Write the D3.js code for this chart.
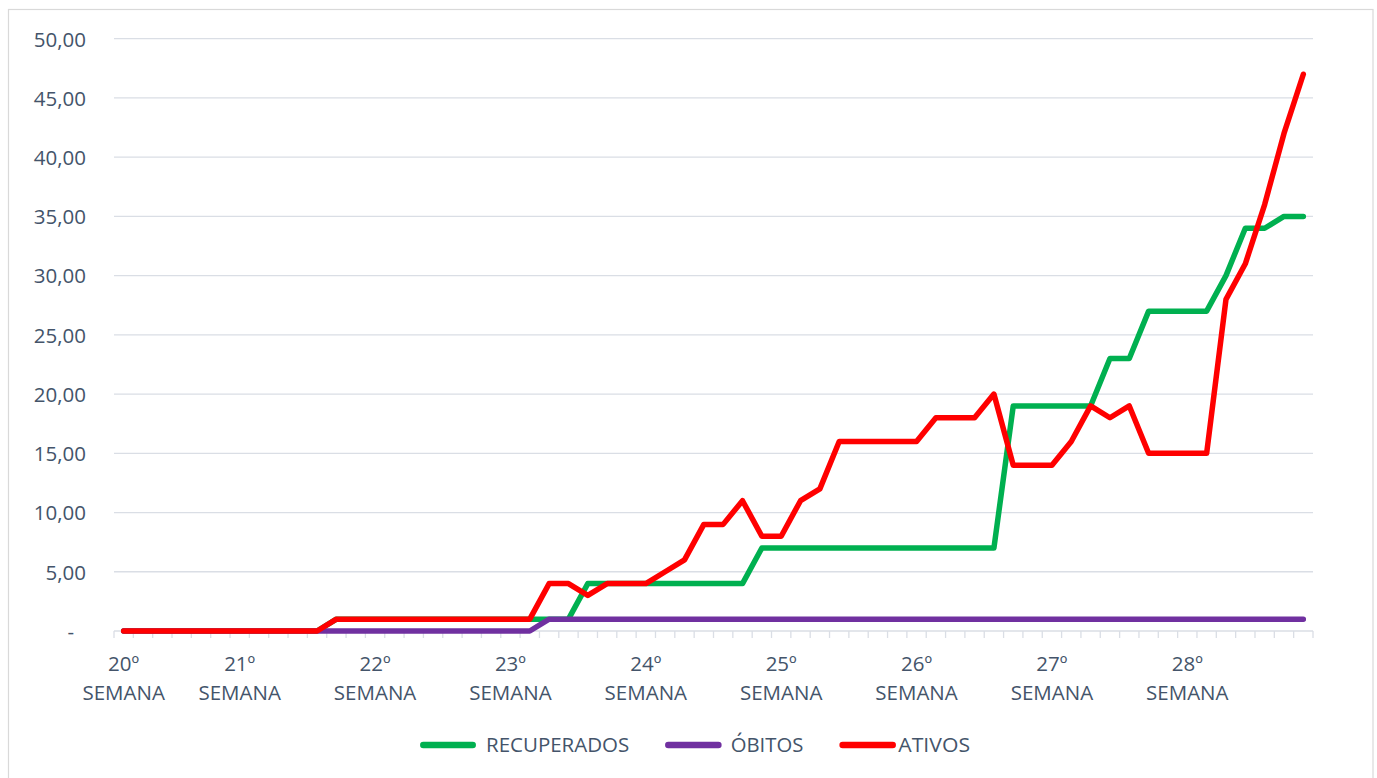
<!DOCTYPE html>
<html>
<head>
<meta charset="utf-8">
<script src="https://cdn.jsdelivr.net/npm/d3@7"></script>
<style>
  html, body { margin: 0; padding: 0; background: #ffffff; }
  svg { display: block; }
  text { font-family: "Open Sans", "Noto Sans", sans-serif; fill: #44546A; }
</style>
</head>
<body>
<svg id="chart" width="1377" height="778"></svg>
<script>
// ---- data (one value per day, 62 points) ----
const weekLabels = ["20º", "21º", "22º", "23º", "24º", "25º", "26º", "27º", "28º"];
const weekLabelIndex = [0, 6, 13, 20, 27, 34, 41, 48, 55];
const weekWord = "SEMANA";

const recuperados = [
  0,0,0,0,0,0,0,0,0,0,0,
  1,1,1,1,1,1,1,1,1,1,1,1,1,
  4,4,4,4,4,4,4,4,4,
  7,7,7,7,7,7,7,7,7,7,7,7,7,
  19,19,19,19,19,
  23,23,
  27,27,27,27,
  30,34,34,35,35
];
const obitos = [
  0,0,0,0,0,0,0,0,0,0,0,0,0,0,0,0,0,0,0,0,0,0,
  1,1,1,1,1,1,1,1,1,1,1,1,1,1,1,1,1,1,1,1,
  1,1,1,1,1,1,1,1,1,1,1,1,1,1,1,1,1,1,1,1
];
const ativos = [
  0,0,0,0,0,0,0,0,0,0,0,
  1,1,1,1,1,1,1,1,1,1,1,
  4,4,3,4,4,4,5,6,9,9,11,8,8,11,12,
  16,16,16,16,16,18,18,18,20,14,14,14,16,19,18,19,
  15,15,15,15,28,31,36,42,47
];

const yTicks = [0, 5, 10, 15, 20, 25, 30, 35, 40, 45, 50];
const seriesNames = ["RECUPERADOS", "ÓBITOS", "ATIVOS"];
const seriesValues = [recuperados, obitos, ativos];
const seriesColors = ["#00B050", "#7030A0", "#FF0000"];

(function () {
// ---- layout ----
const svg = d3.select("#chart");
const pLeft = 114, pRight = 1313, pTop = 38.7, pBottom = 631;
const gridColor = "#DADEE5";

// outer frame
svg.append("rect")
  .attr("x", 8.5).attr("y", 9.5)
  .attr("width", 1364.5).attr("height", 790)
  .attr("fill", "none").attr("stroke", "#D9D9D9").attr("stroke-width", 1.2);

const n = ativos.length;
const x = d3.scaleBand().domain(d3.range(n)).range([pLeft, pRight]).padding(0);
const xc = i => x(i) + x.bandwidth() / 2;
const y = d3.scaleLinear().domain([0, 50]).range([pBottom, pTop]);

const fmt = v => v === 0 ? "-" : d3.format(".2f")(v).replace(".", ",");

// gridlines
svg.append("g").selectAll("line")
  .data(yTicks.filter(t => t > 0))
  .join("line")
  .attr("x1", pLeft).attr("x2", pRight)
  .attr("y1", d => y(d)).attr("y2", d => y(d))
  .attr("stroke", gridColor).attr("stroke-width", 1.3);

// y labels
svg.append("g").selectAll("text")
  .data(yTicks)
  .join("text")
  .attr("x", d => d === 0 ? 74 : 86)
  .attr("y", d => y(d) + 7.8)
  .attr("text-anchor", "end")
  .attr("font-size", 20.5)
  .text(d => fmt(d));

// x axis line and ticks
svg.append("line")
  .attr("x1", pLeft).attr("x2", pRight)
  .attr("y1", pBottom).attr("y2", pBottom)
  .attr("stroke", gridColor).attr("stroke-width", 1.5);
svg.append("g").selectAll("line")
  .data(d3.range(n + 1))
  .join("line")
  .attr("x1", d => d < n ? x(d) : pRight)
  .attr("x2", d => d < n ? x(d) : pRight)
  .attr("y1", pBottom).attr("y2", pBottom + 7)
  .attr("stroke", gridColor).attr("stroke-width", 1.3);

// x labels
const xl = svg.append("g").selectAll("text")
  .data(weekLabels.map((l, k) => ({ l, i: weekLabelIndex[k] })))
  .join("text")
  .attr("text-anchor", "middle")
  .attr("font-size", 20.5);
xl.append("tspan").attr("x", d => xc(d.i)).attr("y", 670.5).text(d => d.l);
xl.append("tspan").attr("x", d => xc(d.i)).attr("y", 699.5).text(weekWord);

// lines
const line = d3.line().x((d, i) => xc(i)).y(d => y(d));
svg.append("g").selectAll("path")
  .data(seriesValues)
  .join("path")
  .attr("d", d => line(d))
  .attr("fill", "none")
  .attr("stroke", (d, k) => seriesColors[k])
  .attr("stroke-width", 5.5)
  .attr("stroke-linejoin", "round")
  .attr("stroke-linecap", "round");

// legend
const legendLineX = [[423.3, 472.7], [668.3, 718.4], [842.6, 892.7]];
const legendTextX = [486, 730.7, 898.3];
const legendTextW = [143.3, 72.6, 71.7];
const lg = svg.append("g");
seriesNames.forEach((name, k) => {
  lg.append("line")
    .attr("x1", legendLineX[k][0]).attr("x2", legendLineX[k][1])
    .attr("y1", 745).attr("y2", 745)
    .attr("stroke", seriesColors[k]).attr("stroke-width", 6.5)
    .attr("stroke-linecap", "round");
  lg.append("text")
    .attr("x", legendTextX[k]).attr("y", 752.3)
    .attr("font-size", 20.5)
    .attr("textLength", legendTextW[k])
    .attr("lengthAdjust", "spacingAndGlyphs")
    .text(name);
});
})();
</script>
</body>
</html>
